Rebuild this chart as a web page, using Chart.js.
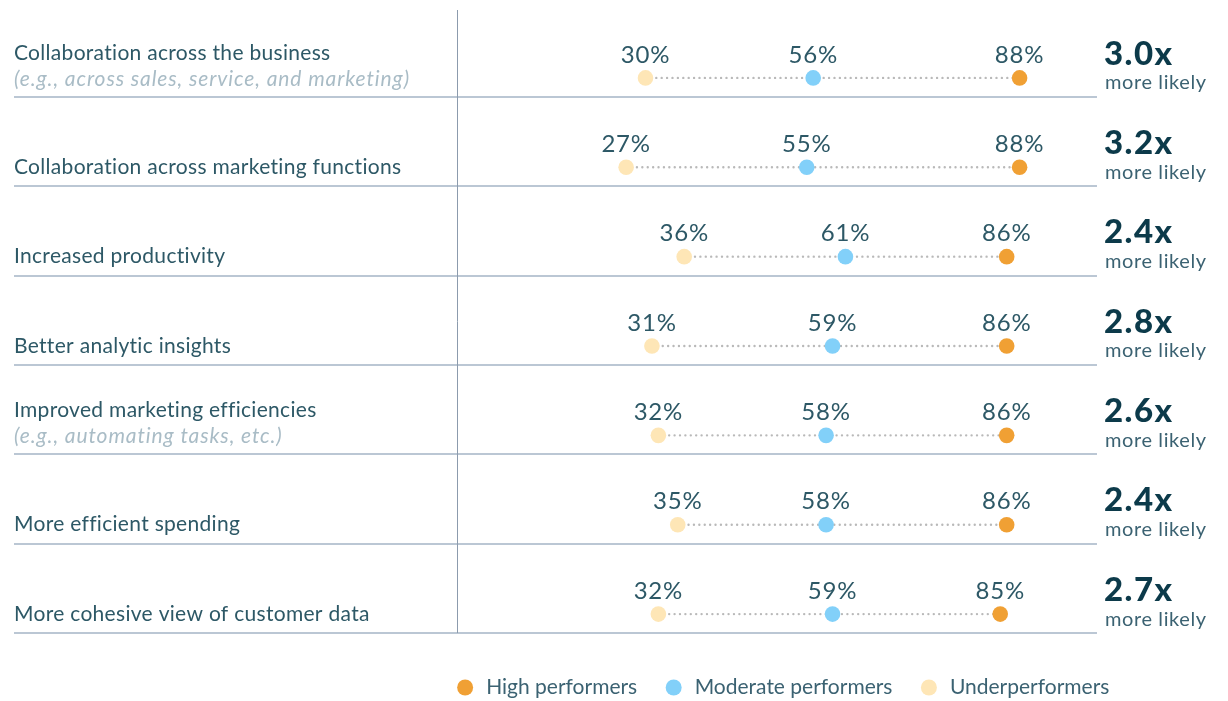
<!DOCTYPE html>
<html>
<head>
<meta charset="utf-8">
<script src="https://cdn.jsdelivr.net/npm/chart.js@4"></script>
<style>
  html, body { margin: 0; padding: 0; background: #fff; overflow: hidden; }
  #wrap { width: 1228px; height: 708px; position: relative; }
</style>
</head>
<body>
<div id="wrap"><canvas id="dots"></canvas></div>
<script>
const categories = [
    'Collaboration across the business',
    'Collaboration across marketing functions',
    'Increased productivity',
    'Better analytic insights',
    'Improved marketing efficiencies',
    'More efficient spending',
    'More cohesive view of customer data'
];
const subLabels = [
    '(e.g., across sales, service, and marketing)',
    '', '', '',
    '(e.g., automating tasks, etc.)',
    '', ''
];
const high = [88, 88, 86, 86, 86, 86, 85];
const moderate = [56, 55, 61, 59, 58, 58, 59];
const under = [30, 27, 36, 31, 32, 35, 32];
const likelihood = ['3.0x', '3.2x', '2.4x', '2.8x', '2.6x', '2.4x', '2.7x'];

const FONT = 'Lato, "Open Sans", sans-serif';
const TEXT_DARK = '#2d5866';
const LINE_COL = '#a4b4c6';

const toPoints = (vals) => vals.map((v, i) => ({ x: v, y: i }));

// dotted connectors, one per row
const connectors = categories.map((c, i) => ({
    type: 'line',
    label: '_conn',
    data: [{ x: under[i], y: i }, { x: high[i], y: i }],
    borderColor: '#b9b9b9',
    borderWidth: 2.4,
    borderDash: [0, 5.4],
    borderCapStyle: 'round',
    pointRadius: 0,
    pointHoverRadius: 0,
    order: 2
}));

const dotSet = (label, vals, color) => ({
    type: 'scatter',
    label: label,
    data: toPoints(vals),
    backgroundColor: color,
    borderColor: color,
    pointRadius: 7.8,
    pointHoverRadius: 7.8,
    borderWidth: 0,
    order: 1
});

const decor = {
    id: 'decor',
    beforeDatasetsDraw(chart) {
        const { ctx, chartArea, scales: { x, y } } = chart;
        const right = x.getPixelForValue(100);
        const divX = Math.round(x.getPixelForValue(0.78)) + 0.5;
        ctx.save();
        // row separators
        ctx.strokeStyle = LINE_COL;
        ctx.lineWidth = 1.5;
        categories.forEach((c, i) => {
            const yy = Math.round(y.getPixelForValue(i + 0.212));
            ctx.beginPath();
            ctx.moveTo(14, yy);
            ctx.lineTo(right, yy);
            ctx.stroke();
        });
        // vertical divider
        ctx.strokeStyle = '#8c9bad';
        ctx.lineWidth = 1;
        ctx.beginPath();
        ctx.moveTo(divX, chartArea.top);
        ctx.lineTo(divX, y.getPixelForValue(6.212));
        ctx.stroke();
        ctx.restore();
    },
    afterDatasetsDraw(chart) {
        const { ctx, scales: { x, y } } = chart;
        const rightX = x.getPixelForValue(100) + 8;
        ctx.save();
        ctx.textBaseline = 'middle';
        categories.forEach((c, i) => {
            const yy = y.getPixelForValue(i);
            // left labels
            ctx.textAlign = 'left';
            ctx.letterSpacing = '0.3px';
            ctx.fillStyle = TEXT_DARK;
            ctx.font = '21px ' + FONT;
            if (subLabels[i]) {
                ctx.fillText(c, 14, yy - 25);
                ctx.fillStyle = '#a9bcc6';
                ctx.letterSpacing = '0.9px';
                ctx.font = 'italic 21px ' + FONT;
                ctx.fillText(subLabels[i], 14, yy + 1);
            } else {
                ctx.fillText(c, 14, yy);
            }
            // percentages
            ctx.textAlign = 'center';
            ctx.fillStyle = TEXT_DARK;
            ctx.letterSpacing = '0.8px';
            ctx.font = '24px ' + FONT;
            [under[i], moderate[i], high[i]].forEach(v => {
                ctx.fillText(v + '%', x.getPixelForValue(v), yy - 23);
            });
            // right column
            ctx.textAlign = 'left';
            ctx.fillStyle = '#0c3a4a';
            ctx.letterSpacing = '1.5px';
            ctx.font = '900 33px ' + FONT;
            ctx.fillText(likelihood[i], rightX - 1, yy - 24);
            ctx.fillStyle = '#3b6272';
            ctx.letterSpacing = '0.6px';
            ctx.font = '20px ' + FONT;
            ctx.fillText('more likely', rightX, yy + 5);
        });
        ctx.restore();
    }
};

new Chart(document.getElementById('dots'), {
    data: {
        datasets: [
            dotSet('High performers', high, '#f0a034'),
            dotSet('Moderate performers', moderate, '#82d0f9'),
            dotSet('Underperformers', under, '#fee6b6'),
            ...connectors
        ]
    },
    options: {
        responsive: true,
        maintainAspectRatio: false,
        animation: false,
        layout: { padding: { left: 400, right: 64, top: 10, bottom: 0 } },
        scales: {
            x: { type: 'linear', display: false, min: -8.06, max: 110.39 },
            y: { type: 'linear', display: false, min: -0.76, max: 6.413, reverse: true }
        },
        plugins: {
            tooltip: { enabled: false },
            legend: {
                position: 'bottom',
                labels: {
                    usePointStyle: true,
                    pointStyle: 'circle',
                    boxWidth: 21,
                    boxHeight: 11.3,
                    padding: 26,
                    color: '#3b6272',
                    font: { family: FONT, size: 21 },
                    filter: (item) => item.text !== '_conn'
                }
            }
        }
    },
    plugins: [decor]
});
</script>
</body>
</html>
